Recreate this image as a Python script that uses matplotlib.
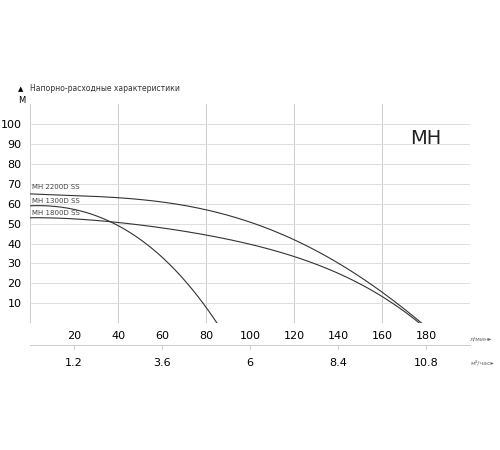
import matplotlib
matplotlib.use("Agg")
import matplotlib.pyplot as plt
import numpy as np

q_2200 = [0, 20, 40, 60, 80, 100, 120, 140, 160, 178]
h_2200 = [65, 64.2, 63, 61, 57, 51, 42, 30, 16, 0]
q_1300 = [0, 20, 30, 40, 50, 60, 70, 78, 85]
h_1300 = [59, 57, 54, 50, 42, 33, 22, 12, 0]
q_1800 = [0, 20, 40, 60, 80, 100, 120, 140, 160, 177]
h_1800 = [53, 52, 50.5, 48, 45, 40, 33, 25, 15, 0]
labels = ["MH 2200D SS", "MH 1300D SS", "MH 1800D SS"]
label_y = [67, 60, 54]
x_ticks = [20, 40, 60, 80, 100, 120, 140, 160, 180]
m3_ticks = ["1.2", "3.6", "6", "8.4", "10.8"]
m3_pos = [20, 60, 100, 140, 180]
y_ticks = [10, 20, 30, 40, 50, 60, 70, 80, 90, 100]

def smooth(x, y):
    xs = np.linspace(x[0], x[-1], 300)
    c = np.polyfit(x, y, min(4, len(x) - 1))
    ys = np.polyval(c, xs)
    ys += np.interp(xs, [x[0], x[-1]], [y[0] - np.polyval(c, x[0]), y[-1] - np.polyval(c, x[-1])])
    return xs, ys

fig = plt.figure(figsize=(5, 4.5), dpi=100)
ax = fig.add_axes([0.06, 0.282, 0.88, 0.486])
ax.set_xlim(0, 200)
ax.set_ylim(0, 110)
for x in range(0, 201, 40):
    ax.axvline(x, color="#cccccc", lw=0.7)
for y in y_ticks:
    ax.axhline(y, color="#dddddd", lw=0.7)
for s in ax.spines.values():
    s.set_visible(False)
for q, h in [(q_2200, h_2200), (q_1300, h_1300), (q_1800, h_1800)]:
    xs, ys = smooth(q, h)
    ax.plot(xs, ys, color="#333333", lw=0.8)
for lab, ly in zip(labels, label_y):
    ax.text(1, ly, lab, fontsize=5, color="#444444", va="bottom")
ax.set_xticks(x_ticks)
ax.set_xticklabels([str(v) for v in x_ticks], fontsize=8)
ax.set_yticks(y_ticks)
ax.set_yticklabels([str(v) for v in y_ticks], fontsize=8)
ax.tick_params(length=0, pad=6)
ax.text(180, 93, "MH", fontsize=14, ha="center", va="center", color="#222222")
ax.text(200, -8, "л/мин▸", fontsize=4.5, color="#666666", va="center", clip_on=False)
ax.text(200, -20, "м³/час▸", fontsize=4.5, color="#666666", va="center", clip_on=False)
ax.plot([0, 200], [-11, -11], color="#cccccc", lw=0.7, clip_on=False)
for p, t in zip(m3_pos, m3_ticks):
    ax.plot([p, p], [-11, -13], color="#cccccc", lw=0.7, clip_on=False)
    ax.text(p, -20, t, fontsize=8, ha="center", va="center", clip_on=False)
fig.text(0.036, 0.798, "▲", fontsize=5)
fig.text(0.06, 0.798, "Напорно-расходные характеристики", fontsize=5.5, color="#333333")
fig.text(0.036, 0.772, "М", fontsize=6)
fig.savefig("out.png")
